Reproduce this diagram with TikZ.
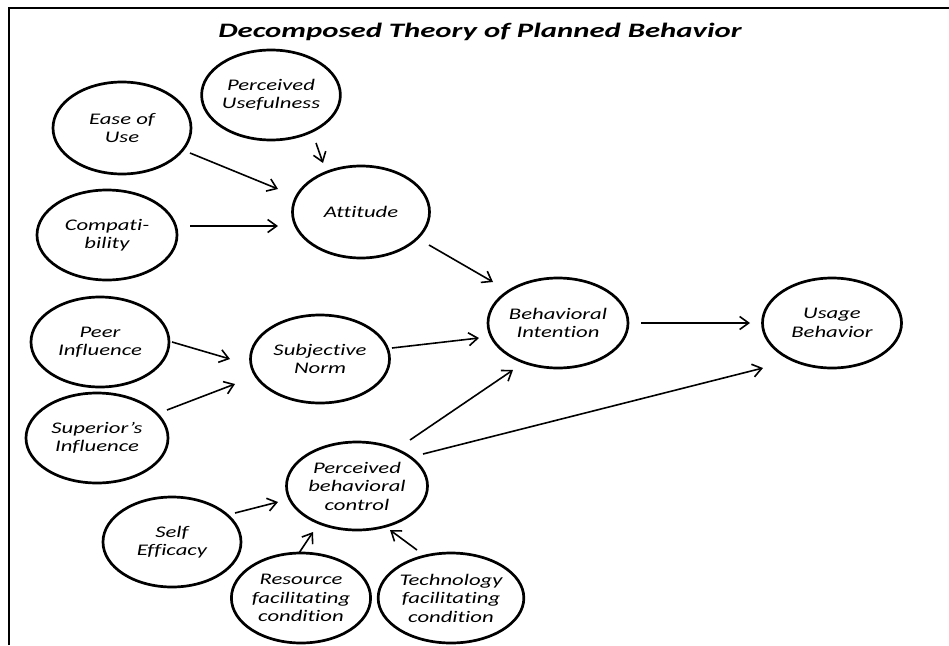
\documentclass[tikz,border=0pt]{standalone}
\usepackage{fontspec}
\setmainfont{Carlito}
\newfontfamily\lblfont{Carlito}[FakeStretch=1.4,Ligatures=NoCommon]
\newfontfamily\ttlfont{Carlito}[FakeStretch=1.5,Ligatures=NoCommon]
\usetikzlibrary{shapes.geometric,arrows.meta}

\begin{document}
\begin{tikzpicture}[x=1pt,y=-1pt,
  bub/.style={ellipse,draw,line width=2.7pt,inner sep=0pt,
    minimum width=139pt,minimum height=90pt,align=center,
    font=\lblfont\itshape\fontsize{16.2}{18.5}\selectfont},
  arr/.style={line width=1.6pt,-{Straight Barb[length=9pt,width=13pt,line width=1.6pt]}}]
\useasboundingbox (0,0) rectangle (949,645);
% frame
\draw[line width=1.6pt] (9,645) -- (9,8) -- (949,8);
% title
\node[font=\ttlfont\bfseries\itshape\fontsize{20.5}{23}\selectfont] (title) at (480,32)
  {Decomposed Theory of Planned Behavior};

% constructs
\node[bub,minimum width=118pt] (pu)   at (271,95)  {Perceived\\Usefulness};
\node[bub,minimum width=138pt,minimum height=92pt] (eou)  at (122,128) {Ease of\\Use};
\node[bub,minimum width=140pt] (comp) at (107,235) {Compati-\\bility};
\node[bub,minimum width=137pt,minimum height=92pt] (att)  at (361,212) {Attitude};
\node[bub,minimum width=138pt] (peer) at (100,342) {Peer\\Influence};
\node[bub,minimum width=142pt] (sup)  at (97,438)  {Superior’s\\Influence};
\node[bub,minimum height=88pt] (sn)   at (320,359) {Subjective\\Norm};
\node[bub,minimum width=140pt] (bi)   at (558,323) {Behavioral\\Intention};
\node[bub] (ub)   at (832,323) {Usage\\Behavior};
\node[bub,minimum width=141pt,minimum height=88pt] (pbc)  at (357,486) {Perceived\\behavioral\\control};
\node[bub,minimum width=138pt] (self) at (172,542) {Self\\Efficacy};
\node[bub,minimum width=133pt] (res)  at (301,598) {Resource\\facilitating\\condition};
\node[bub,minimum width=138pt] (tech) at (451,598) {Technology\\facilitating\\condition};

% connectors
\draw[arr] ([shift={(45,48)}]pu.center)    -- ([shift={(-38,-49)}]att.center);
\draw[arr] ([shift={(68,25)}]eou.center)   -- ([shift={(-83,-23)}]att.center);
\draw[arr] ([shift={(83,-9)}]comp.center)  -- ([shift={(-83,14)}]att.center);
\draw[arr] ([shift={(68,33)}]att.center)   -- ([shift={(-65,-41)}]bi.center);
\draw[arr] ([shift={(72,0)}]peer.center)   -- ([shift={(-90,0)}]sn.center);
\draw[arr] ([shift={(70,-28)}]sup.center)  -- ([shift={(-85,25)}]sn.center);
\draw[arr] ([shift={(72,-11)}]sn.center)   -- ([shift={(-79,15)}]bi.center);
\draw[arr] ([shift={(83,0)}]bi.center)     -- ([shift={(-82,0)}]ub.center);
\draw[arr] ([shift={(53,-46)}]pbc.center)  -- ([shift={(-45,47)}]bi.center);
\draw[arr] ([shift={(66,-32)}]pbc.center)  -- ([shift={(-69,45)}]ub.center);
\draw[arr] ([shift={(63,-29)}]self.center) -- ([shift={(-79,16)}]pbc.center);
\draw[arr] ([shift={(-2,-45)}]res.center)  -- ([shift={(-44,46)}]pbc.center);
\draw[arr] ([shift={(-34,-48)}]tech.center) -- ([shift={(33,44)}]pbc.center);
\end{tikzpicture}
\end{document}
